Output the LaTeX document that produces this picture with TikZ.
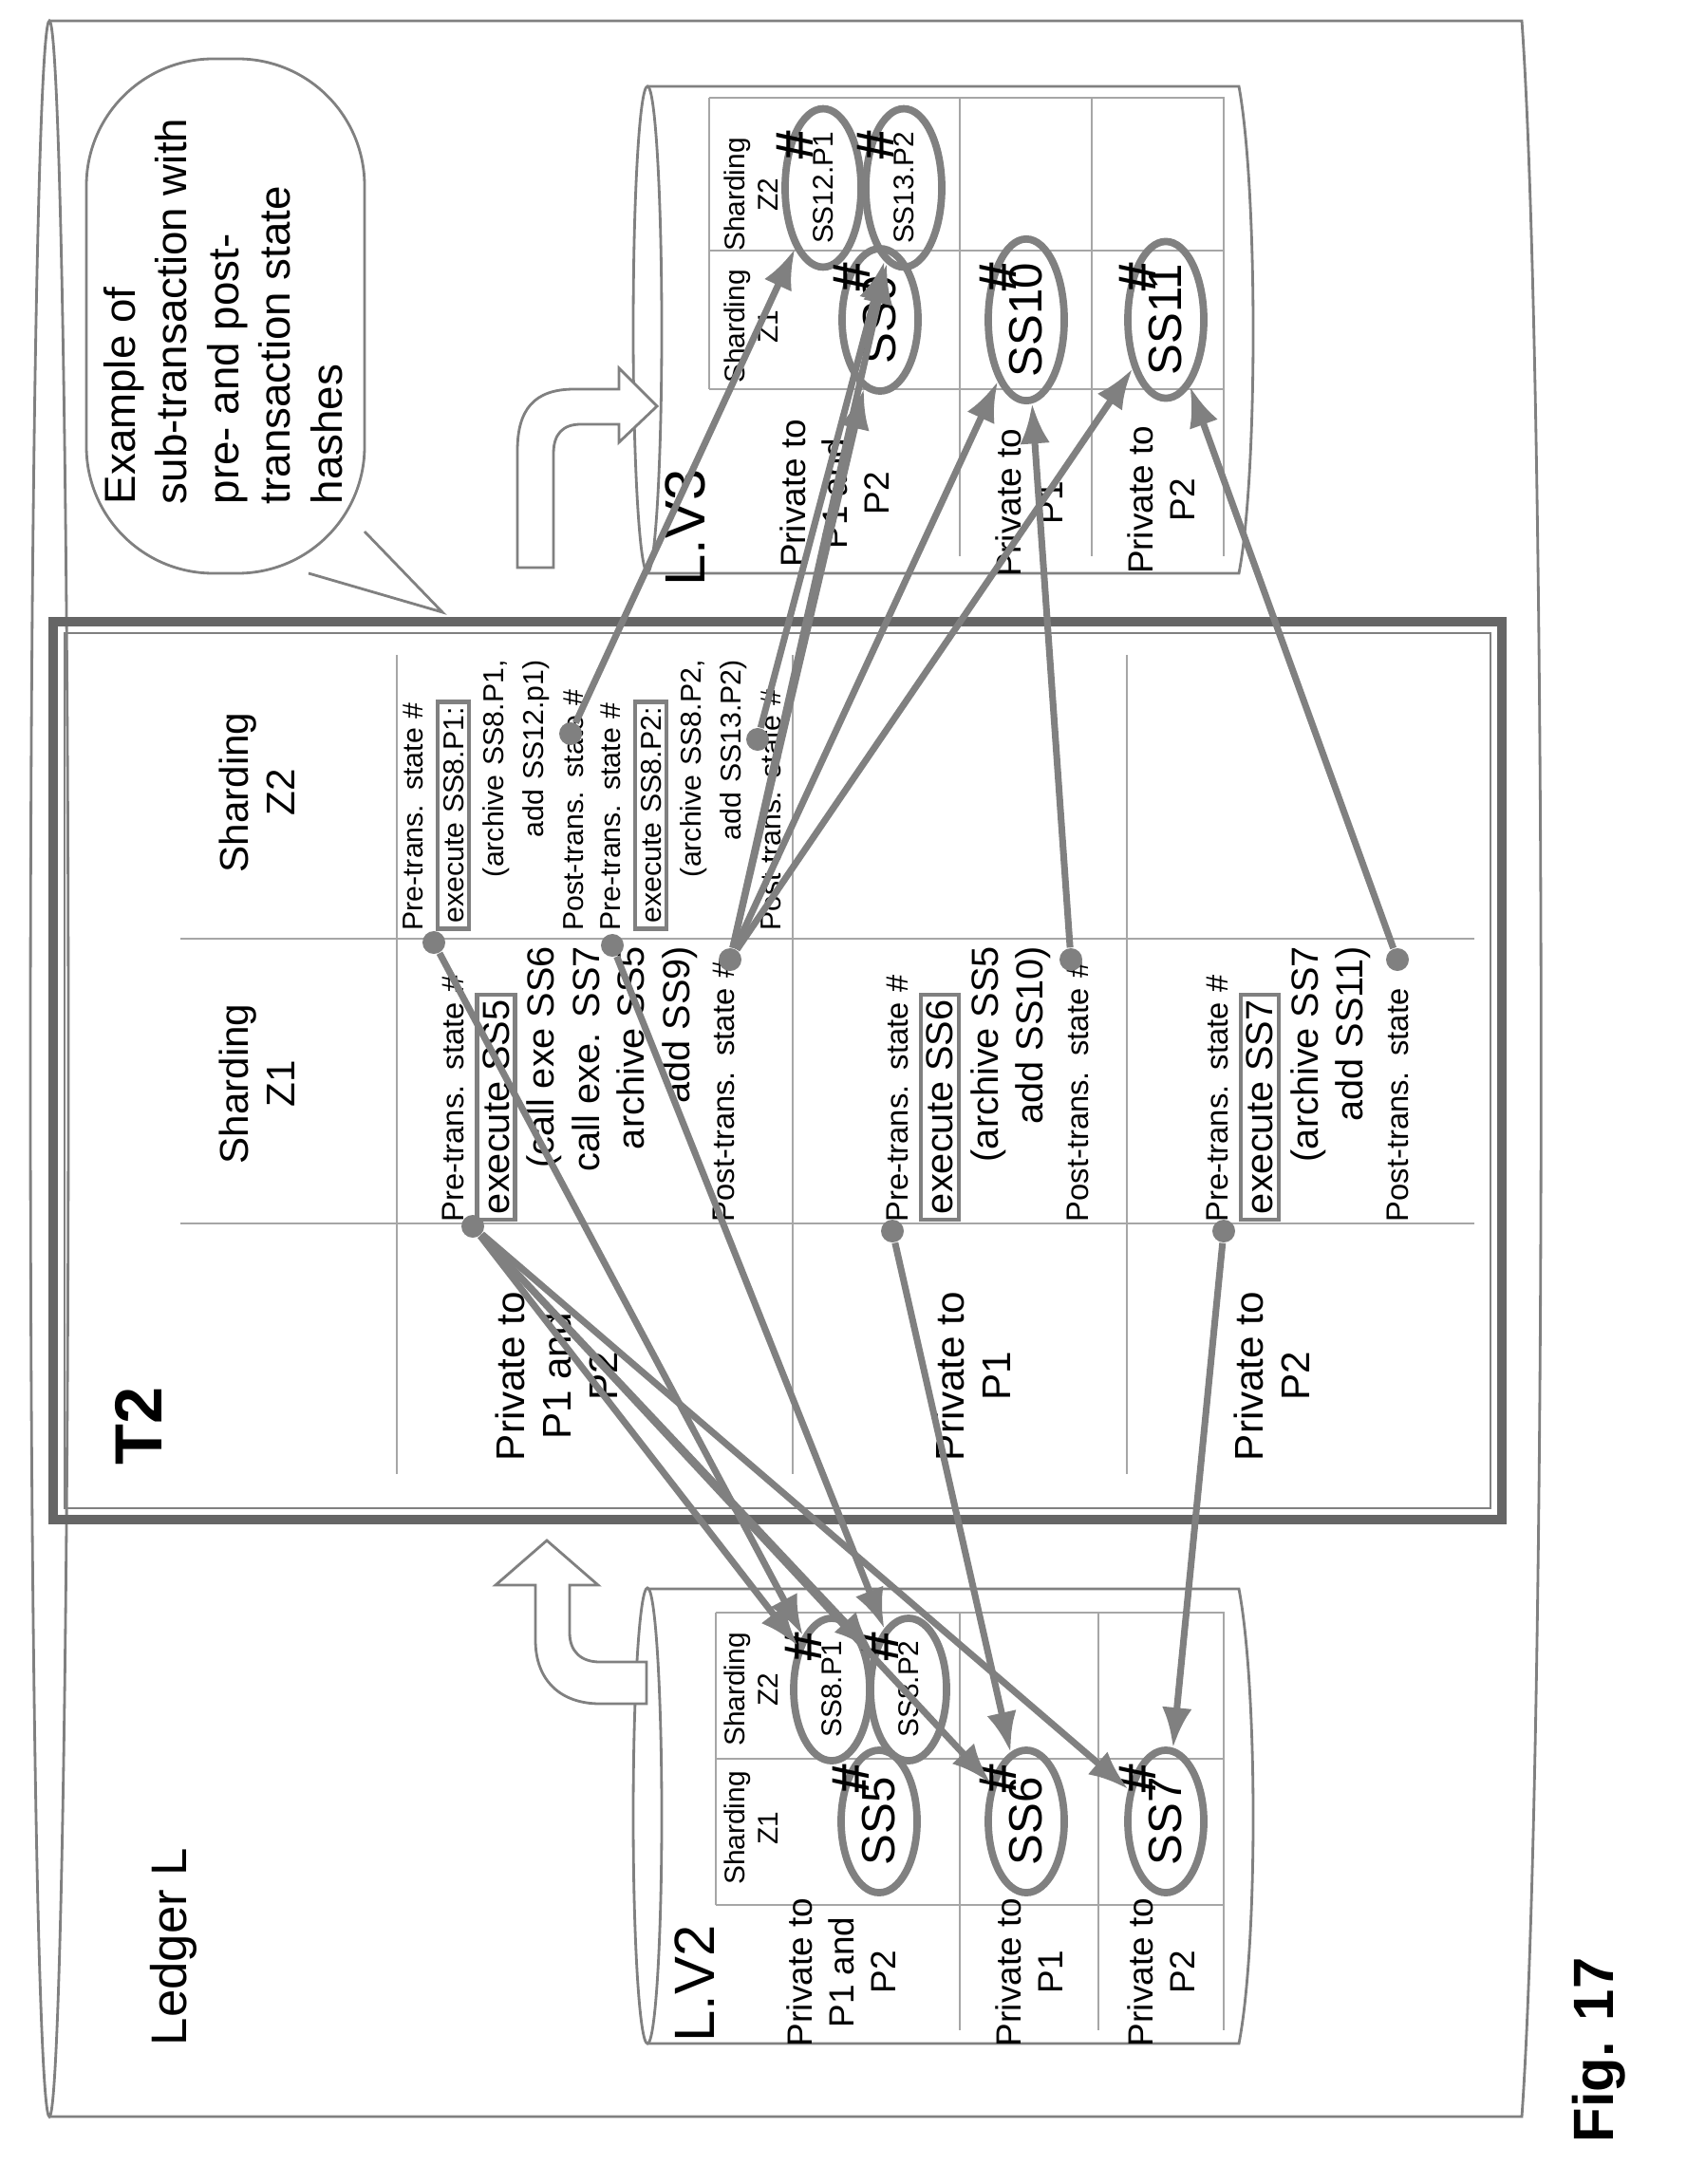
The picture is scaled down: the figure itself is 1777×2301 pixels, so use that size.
\documentclass[tikz,border=0pt]{standalone}
\usepackage{fontspec}
\setmainfont{Liberation Sans}
\usetikzlibrary{arrows.meta, shapes.geometric, positioning, calc}

\newcommand{\exbox}[1]{{\setlength{\fboxsep}{1pt}\setlength{\fboxrule}{1.3pt}\color{gray}\fbox{\color{black}#1}}}
\newcommand{\smtxt}{\fontsize{9.3}{13.5}\selectfont}
\newcommand{\bigtxt}{\fontsize{11.3}{13.5}\selectfont}

\begin{document}
\begin{tikzpicture}[x=0.01cm, y=-0.01cm,
    lbl/.style={rotate=90, align=center, font=\fontsize{10.5}{12.5}\selectfont, inner sep=0pt},
    hdr/.style={rotate=90, align=center, font=\fontsize{8.5}{10}\selectfont, inner sep=0pt},
    shard/.style={ellipse, draw=gray, line width=2.2pt, rotate=90, minimum width=1.5cm, minimum height=0.8cm, inner sep=0pt, font=\fontsize{14}{14}\selectfont},
    shardsm/.style={shard, font=\fontsize{8.5}{9}\selectfont},
    hash/.style={rotate=90, inner sep=0pt, font=\bfseries\fontsize{16}{16}\selectfont},
    dot/.style={circle, fill=gray, minimum size=0.24cm, inner sep=0pt},
    link/.style={draw=gray, line width=2pt, -{Latex[length=12pt,width=9pt]}},
    grid/.style={gray!70, line width=0.6pt},
    block/.style={rotate=90, align=left, text width=2.9cm, inner sep=0pt, font=\smtxt},
    wall/.style={gray, line width=0.8pt}
]

\useasboundingbox (0,0) rectangle (1777,2301);

% ledger L
\draw[wall] (52,1126) ellipse [x radius=20, y radius=1104];
\draw[wall] (52,22) -- (1603,22) .. controls (1630,400) and (1630,1850) .. (1603,2230) -- (52,2230);
\node[rotate=90, font=\fontsize{15}{15}\selectfont] (ledger) at (183,2051) {Ledger L};

% callout
\draw[wall, fill=white, rounded corners=38] (91,62) rectangle (384,604);
\fill[white] (383,560) -- (383,603) -- (325,603) -- cycle;
\draw[wall] (384,560) -- (466,645) -- (325,604);
\node[rotate=90, align=left, font=\fontsize{13}{15.5}\selectfont] (note) at (235,328)
{Example of\\sub-transaction with\\pre- and post-\\transaction state\\hashes};

% L.V3
\draw[wall] (682,347) ellipse [x radius=15, y radius=256];
\draw[wall] (682,91) -- (1305,91) .. controls (1325,200) and (1325,500) .. (1305,604) -- (682,604);
\node[rotate=90, font=\fontsize{17}{17}\selectfont] (lv3) at (722,556) {L.V3};
\draw[grid] (747,103) -- (1289,103) -- (1289,586);
\draw[grid] (747,264) -- (1289,264);
\draw[grid] (747,410) -- (1289,410);
\draw[grid] (747,103) -- (747,410);
\draw[grid] (1011,103) -- (1011,586);
\draw[grid] (1150,103) -- (1150,586);
\node[hdr] at (791,205) {Sharding\\Z2};
\node[hdr] at (791,344) {Sharding\\Z1};
\node[lbl] at (879,520) {Private to\\P1 and\\P2};
\node[lbl] at (1084,530) {Private to\\P1};
\node[lbl] at (1223,527) {Private to\\P2};

\node[shardsm] (ss12) at (867,198) {SS12.P1};
\node[shardsm] (ss13) at (952,198) {SS13.P2};
\node[shard] (ss9) at (927,337) {SS9};
\node[shard] (ss10) at (1081,337) {SS10};
\node[shard] (ss11) at (1228,337) {SS11};
\foreach \s in {ss12,ss13,ss9,ss10,ss11}
  \node[hash] at ($(\s)+(-30,-45)$) {\#};

% L.V2
\draw[wall] (682,1913) ellipse [x radius=15, y radius=240];
\draw[wall] (682,1674) -- (1305,1674) .. controls (1325,1780) and (1325,2050) .. (1305,2153) -- (682,2153);
\node[rotate=90, font=\fontsize{17}{17}\selectfont] (lv2) at (732,2090) {L.V2};
\draw[grid] (754,1699) -- (1289,1699) -- (1289,2139);
\draw[grid] (754,1853) -- (1289,1853);
\draw[grid] (754,2007) -- (1289,2007);
\draw[grid] (754,1699) -- (754,2007);
\draw[grid] (1011,1699) -- (1011,2139);
\draw[grid] (1157,1699) -- (1157,2139);
\node[hdr] at (791,1780) {Sharding\\Z2};
\node[hdr] at (791,1926) {Sharding\\Z1};
\node[lbl] at (886,2078) {Private to\\P1 and\\P2};
\node[lbl] at (1084,2078) {Private to\\P1};
\node[lbl] at (1223,2078) {Private to\\P2};

\node[shardsm] (ss8a) at (876,1780) {SS8.P1};
\node[shardsm] (ss8b) at (957,1780) {SS8.P2};
\node[shard] (ss5) at (926,1919) {SS5};
\node[shard] (ss6) at (1081,1919) {SS6};
\node[shard] (ss7) at (1228,1919) {SS7};
\foreach \s in {ss8a,ss8b,ss5,ss6,ss7}
  \node[hash] at ($(\s)+(-30,-45)$) {\#};

% hollow arrows
\draw[wall, fill=white] (545,598) -- (545,475) .. controls (545,432) and (562,410) .. (605,410)
  -- (652,410) -- (652,388) -- (692,428) -- (652,466) -- (652,447) -- (612,447)
  .. controls (593,447) and (583,457) .. (583,478) -- (583,598) -- cycle;
\draw[wall, fill=white] (681,1751) -- (632,1751) .. controls (612,1751) and (600,1740) .. (600,1720)
  -- (600,1670) -- (630,1670) -- (576,1623) -- (522,1670) -- (564,1670) -- (564,1728)
  .. controls (564,1770) and (590,1795) .. (632,1795) -- (681,1795) -- cycle;

% T2
\draw[gray!80!black, line width=3pt] (56,655) rectangle (1582,1601);
\draw[gray, line width=0.8pt] (68,667) rectangle (1570,1589);
\node[font=\bfseries\fontsize{20}{20}\selectfont, rotate=90] (t2) at (146,1502) {T2};
\draw[grid] (418,690) -- (418,1553);
\draw[grid] (835,690) -- (835,1553);
\draw[grid] (1187,690) -- (1187,1553);
\draw[grid] (190,989) -- (1553,989);
\draw[grid] (190,1289) -- (1553,1289);
\node[lbl, font=\fontsize{12}{14}\selectfont] at (271,835) {Sharding\\Z2};
\node[lbl, font=\fontsize{12}{14}\selectfont] at (271,1142) {Sharding\\Z1};
\node[lbl, font=\fontsize{12}{14}\selectfont] at (586,1450) {Private to\\P1 and\\P2};
\node[lbl, font=\fontsize{12}{14}\selectfont] at (1025,1450) {Private to\\P1};
\node[lbl, font=\fontsize{12}{14}\selectfont] at (1340,1450) {Private to\\P2};

\node[block, text width=2.85cm, font=\fontsize{8.6}{12}\selectfont] (z2a) at (520,838)
{Pre-trans. state \#\\\exbox{execute SS8.P1:}\\\hfill(archive SS8.P1,\\\hfill add SS12.p1)\\Post-trans. state \#};
\node[block, text width=2.85cm, font=\fontsize{8.6}{12}\selectfont] (z2b) at (728,838)
{Pre-trans. state \#\\\exbox{execute SS8.P2:}\\\hfill(archive SS8.P2,\\\hfill add SS13.P2)\\Post-trans. state \#};
\node[block] (z1a) at (620,1142)
{Pre-trans. state \#\\{\bigtxt\exbox{execute SS5}}\\\hfill{\bigtxt (call exe SS6}\\\hfill{\bigtxt call exe. SS7}\\\hfill{\bigtxt archive SS5}\\\hfill{\bigtxt add SS9)}\\Post-trans. state \#};
\node[block] (z1b) at (1040,1142)
{Pre-trans. state \#\\{\bigtxt\exbox{execute SS6}}\\\hfill{\bigtxt (archive SS5}\\\hfill{\bigtxt add SS10)}\\Post-trans. state \#};
\node[block] (z1c) at (1377,1142)
{Pre-trans. state \#\\{\bigtxt\exbox{execute SS7}}\\\hfill{\bigtxt (archive SS7}\\\hfill{\bigtxt add SS11)}\\Post-trans. state};

% state hash dots
\node[dot] (preA) at (498,1292) {};
\node[dot] (preB) at (457,993) {};
\node[dot] (preC) at (645,996) {};
\node[dot] (preD) at (940,1297) {};
\node[dot] (preE) at (1289,1297) {};
\node[dot] (postF) at (601,773) {};
\node[dot] (postG) at (798,779) {};
\node[dot] (postH) at (769,1011) {};
\node[dot] (postI) at (1128,1011) {};
\node[dot] (postJ) at (1472,1011) {};

% pre-transaction hashes
\draw[link] (preB) -- (ss8a);
\draw[link] (preC) -- (ss8b);
\draw[link] (preA) -- (ss8a);
\draw[link] (preA) -- (ss8b);
\draw[link] (preA) -- (ss6);
\draw[link] (preA) -- (ss7);
\draw[link] (preD) -- (ss6);
\draw[link] (preE) -- (ss7);

% post-transaction hashes
\draw[link] (postF) -- (ss12);
\draw[link] (postG) -- (ss13);
\draw[link] (postH) -- (ss9);
\draw[link] (postH) -- (ss13);
\draw[link] (postH) -- (ss10);
\draw[link] (postH) -- (ss11);
\draw[link] (postI) -- (ss10);
\draw[link] (postJ) -- (ss11);

\node[rotate=90, font=\bfseries\fontsize{17}{17}\selectfont] (fig) at (1684,2160) {Fig. 17};

\end{tikzpicture}
\end{document}
